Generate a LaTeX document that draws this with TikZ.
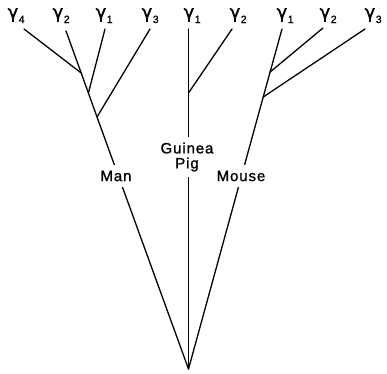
\documentclass[tikz,border=0pt]{standalone}
\usepackage{fontspec}
\setmainfont{Liberation Sans}
\newfontfamily\greekfont[FakeBold=1.2]{DejaVu Sans}
\newfontfamily\digitfont[FakeBold=1.2]{Liberation Sans}
\newfontfamily\namefont[LetterSpace=6,FakeBold=1.2]{Liberation Sans}
% gamma chain label with a lowered index
\newcommand{\gch}[1]{{\greekfont\fontsize{18}{18}\selectfont γ}\kern0.5pt\raisebox{-5pt}{\digitfont\fontsize{10.5}{10.5}\selectfont #1}}
\begin{document}
\begin{tikzpicture}[x=1pt,y=-1pt,line width=1.3pt,
  branch/.style={draw=black,line cap=round,line join=round},
  chain/.style={anchor=base west,inner sep=0pt},
  species/.style={fill=white,font=\namefont\fontsize{15}{15}\selectfont,align=center,inner xsep=2pt,inner ysep=5.5pt}]
\useasboundingbox (0,0) rectangle (387,373);

\coordinate (root) at (188.5,369);

% Man
\coordinate (m4) at (24,29);
\coordinate (m2) at (66,31);
\coordinate (m1) at (105,29);
\coordinate (m3) at (150,29);
\coordinate (mj4) at (81.2,73);
\coordinate (mj1) at (88.4,93);
\coordinate (mj3) at (97.0,117);
\draw[branch] (m2) -- (mj4) -- (mj1) -- (mj3) -- (root);
\draw[branch] (m4) -- (mj4);
\draw[branch] (m1) -- (mj1);
\draw[branch] (m3) -- (mj3);

% Guinea pig
\coordinate (g1) at (188.5,29);
\coordinate (g2) at (232,29);
\coordinate (gj2) at (188.5,93);
\draw[branch] (g1) -- (gj2) -- (root);
\draw[branch] (g2) -- (gj2);

% Mouse
\coordinate (u1) at (282,29);
\coordinate (u2) at (323,28);
\coordinate (u3) at (365,29);
\coordinate (uj2) at (270.1,72);
\coordinate (uj3) at (263.2,97);
\draw[branch] (u1) -- (uj2) -- (uj3) -- (root);
\draw[branch] (u2) -- (uj2);
\draw[branch] (u3) -- (uj3);

% chain labels
\node[chain] (lm4) at (7,18) {\gch{4}};
\node[chain] (lm2) at (52,18) {\gch{2}};
\node[chain] (lm1) at (95,18) {\gch{1}};
\node[chain] (lm3) at (141,18) {\gch{3}};
\node[chain] (lg1) at (183,18) {\gch{1}};
\node[chain] (lg2) at (229,18) {\gch{2}};
\node[chain] (lu1) at (276,18) {\gch{1}};
\node[chain] (lu2) at (319,18) {\gch{2}};
\node[chain] (lu3) at (364,18) {\gch{3}};

% species names
\node[species] (man) at (116,176) {Man};
\node[species,inner ysep=6pt] (pig) at (187,157) {Guinea\\Pig};
\node[species] (mouse) at (241,176) {Mouse};
\end{tikzpicture}
\end{document}
